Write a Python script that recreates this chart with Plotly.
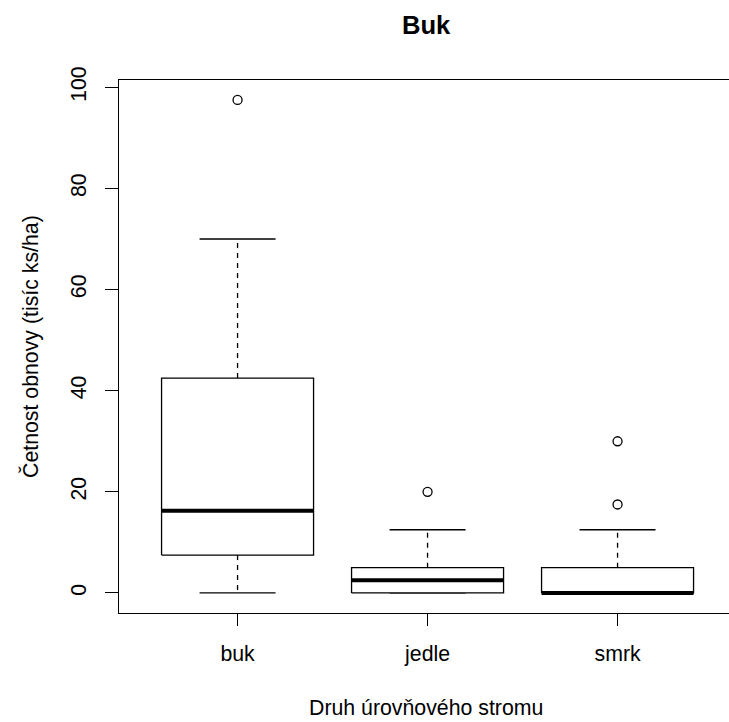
import plotly.graph_objects as go

# ---- data ----
categories = ["buk", "jedle", "smrk"]
lower_whisker = [0.0, 0.0, 0.0]
q1 = [7.5, 0.0, 0.0]
median = [16.25, 2.5, 0.0]
q3 = [42.5, 5.0, 5.0]
upper_whisker = [70.0, 12.5, 12.5]
outliers = [[97.5], [20.0], [17.5, 30.0]]

y_ticks = [0, 20, 40, 60, 80, 100]

title_text = "Buk"
x_title = "Druh úrovňového stromu"
y_title = "Četnost obnovy (tisíc ks/ha)"

# ---- style ----
FONT = "Arial, Liberation Sans, sans-serif"
BOX_W = 0.8
CAP_W = 0.4
W, H = 729, 722
L, R, T, B = 119, 0, 80, 109

pos = list(range(1, len(categories) + 1))

box_x, box_y = [], []
med_x, med_y = [], []
wh_x, wh_y = [], []
cap_x, cap_y = [], []
out_x, out_y = [], []
for i, p in enumerate(pos):
    a, b = p - BOX_W / 2, p + BOX_W / 2
    box_x += [a, b, b, a, a, None]
    box_y += [q1[i], q1[i], q3[i], q3[i], q1[i], None]
    med_x += [a, b, None]
    med_y += [median[i], median[i], None]
    if upper_whisker[i] > q3[i]:
        wh_x += [p, p, None]
        wh_y += [q3[i], upper_whisker[i], None]
    if lower_whisker[i] < q1[i]:
        wh_x += [p, p, None]
        wh_y += [q1[i], lower_whisker[i], None]
    for v in (upper_whisker[i], lower_whisker[i]):
        cap_x += [p - CAP_W / 2, p + CAP_W / 2, None]
        cap_y += [v, v, None]
    for o in outliers[i]:
        out_x.append(p)
        out_y.append(o)

fig = go.Figure()
fig.add_trace(go.Scatter(x=wh_x, y=wh_y, mode="lines",
                         line=dict(color="black", width=1.3, dash="5px,5px"),
                         hoverinfo="skip", showlegend=False))
fig.add_trace(go.Scatter(x=cap_x, y=cap_y, mode="lines",
                         line=dict(color="black", width=1.3),
                         hoverinfo="skip", showlegend=False))
fig.add_trace(go.Scatter(x=box_x, y=box_y, mode="lines", fill="toself",
                         fillcolor="white",
                         line=dict(color="black", width=1.3),
                         hoverinfo="skip", showlegend=False))
fig.add_trace(go.Scatter(x=med_x, y=med_y, mode="lines",
                         line=dict(color="black", width=4),
                         hoverinfo="skip", showlegend=False))
fig.add_trace(go.Scatter(x=out_x, y=out_y, mode="markers",
                         marker=dict(symbol="circle-open", size=9, color="black",
                                     line=dict(width=1.3, color="black")),
                         showlegend=False))

plot_w = W - L - R
plot_h = H - T - B
x_lo = 0.376
x_hi = x_lo + plot_w / 190.0

fig.update_layout(
    width=W, height=H,
    margin=dict(l=L, r=R, t=T, b=B, pad=0),
    paper_bgcolor="white", plot_bgcolor="white",
    font=dict(family=FONT, size=21.3, color="black"),
    showlegend=False,
    xaxis=dict(range=[x_lo, x_hi], tickmode="array", tickvals=pos,
               ticktext=categories, showgrid=False, zeroline=False,
               showline=True, mirror=True, linecolor="black", linewidth=1.3,
               ticks="outside", ticklen=12, tickwidth=1.3, tickcolor="black",
               ticklabelstandoff=9,
               tickfont=dict(family=FONT, size=21.3, color="black")),
    yaxis=dict(range=[-3.96, 101.44], tickmode="array", tickvals=y_ticks,
               ticktext=[str(v) for v in y_ticks], showgrid=False,
               zeroline=False, showline=True, linecolor="black",
               linewidth=1.3, ticks="outside", ticklen=13, tickwidth=1.3,
               tickcolor="black", tickangle=-90, ticklabelstandoff=10,
               tickfont=dict(family=FONT, size=21.3, color="black")),
    annotations=[
        dict(text="<b>%s</b>" % title_text, xref="paper", yref="paper",
             x=(426.7 - L) / plot_w, y=(H - B - 24.7) / plot_h,
             xanchor="center", yanchor="middle", showarrow=False,
             font=dict(family=FONT, size=25.6, color="black")),
        dict(text=x_title, xref="paper", yref="paper",
             x=(425.5 - L) / plot_w, y=(H - B - 708) / plot_h,
             xanchor="center", yanchor="middle", showarrow=False,
             font=dict(family=FONT, size=21.3, color="black")),
        dict(text=y_title, xref="paper", yref="paper",
             x=(30 - L) / plot_w, y=(H - B - 347) / plot_h,
             xanchor="center", yanchor="middle", textangle=-90,
             showarrow=False,
             font=dict(family=FONT, size=21.3, color="black")),
    ],
)

fig.write_html(
    "out.html",
    config={"displayModeBar": False},
    post_script="document.body.style.margin='0';document.body.style.overflow='hidden';",
)
